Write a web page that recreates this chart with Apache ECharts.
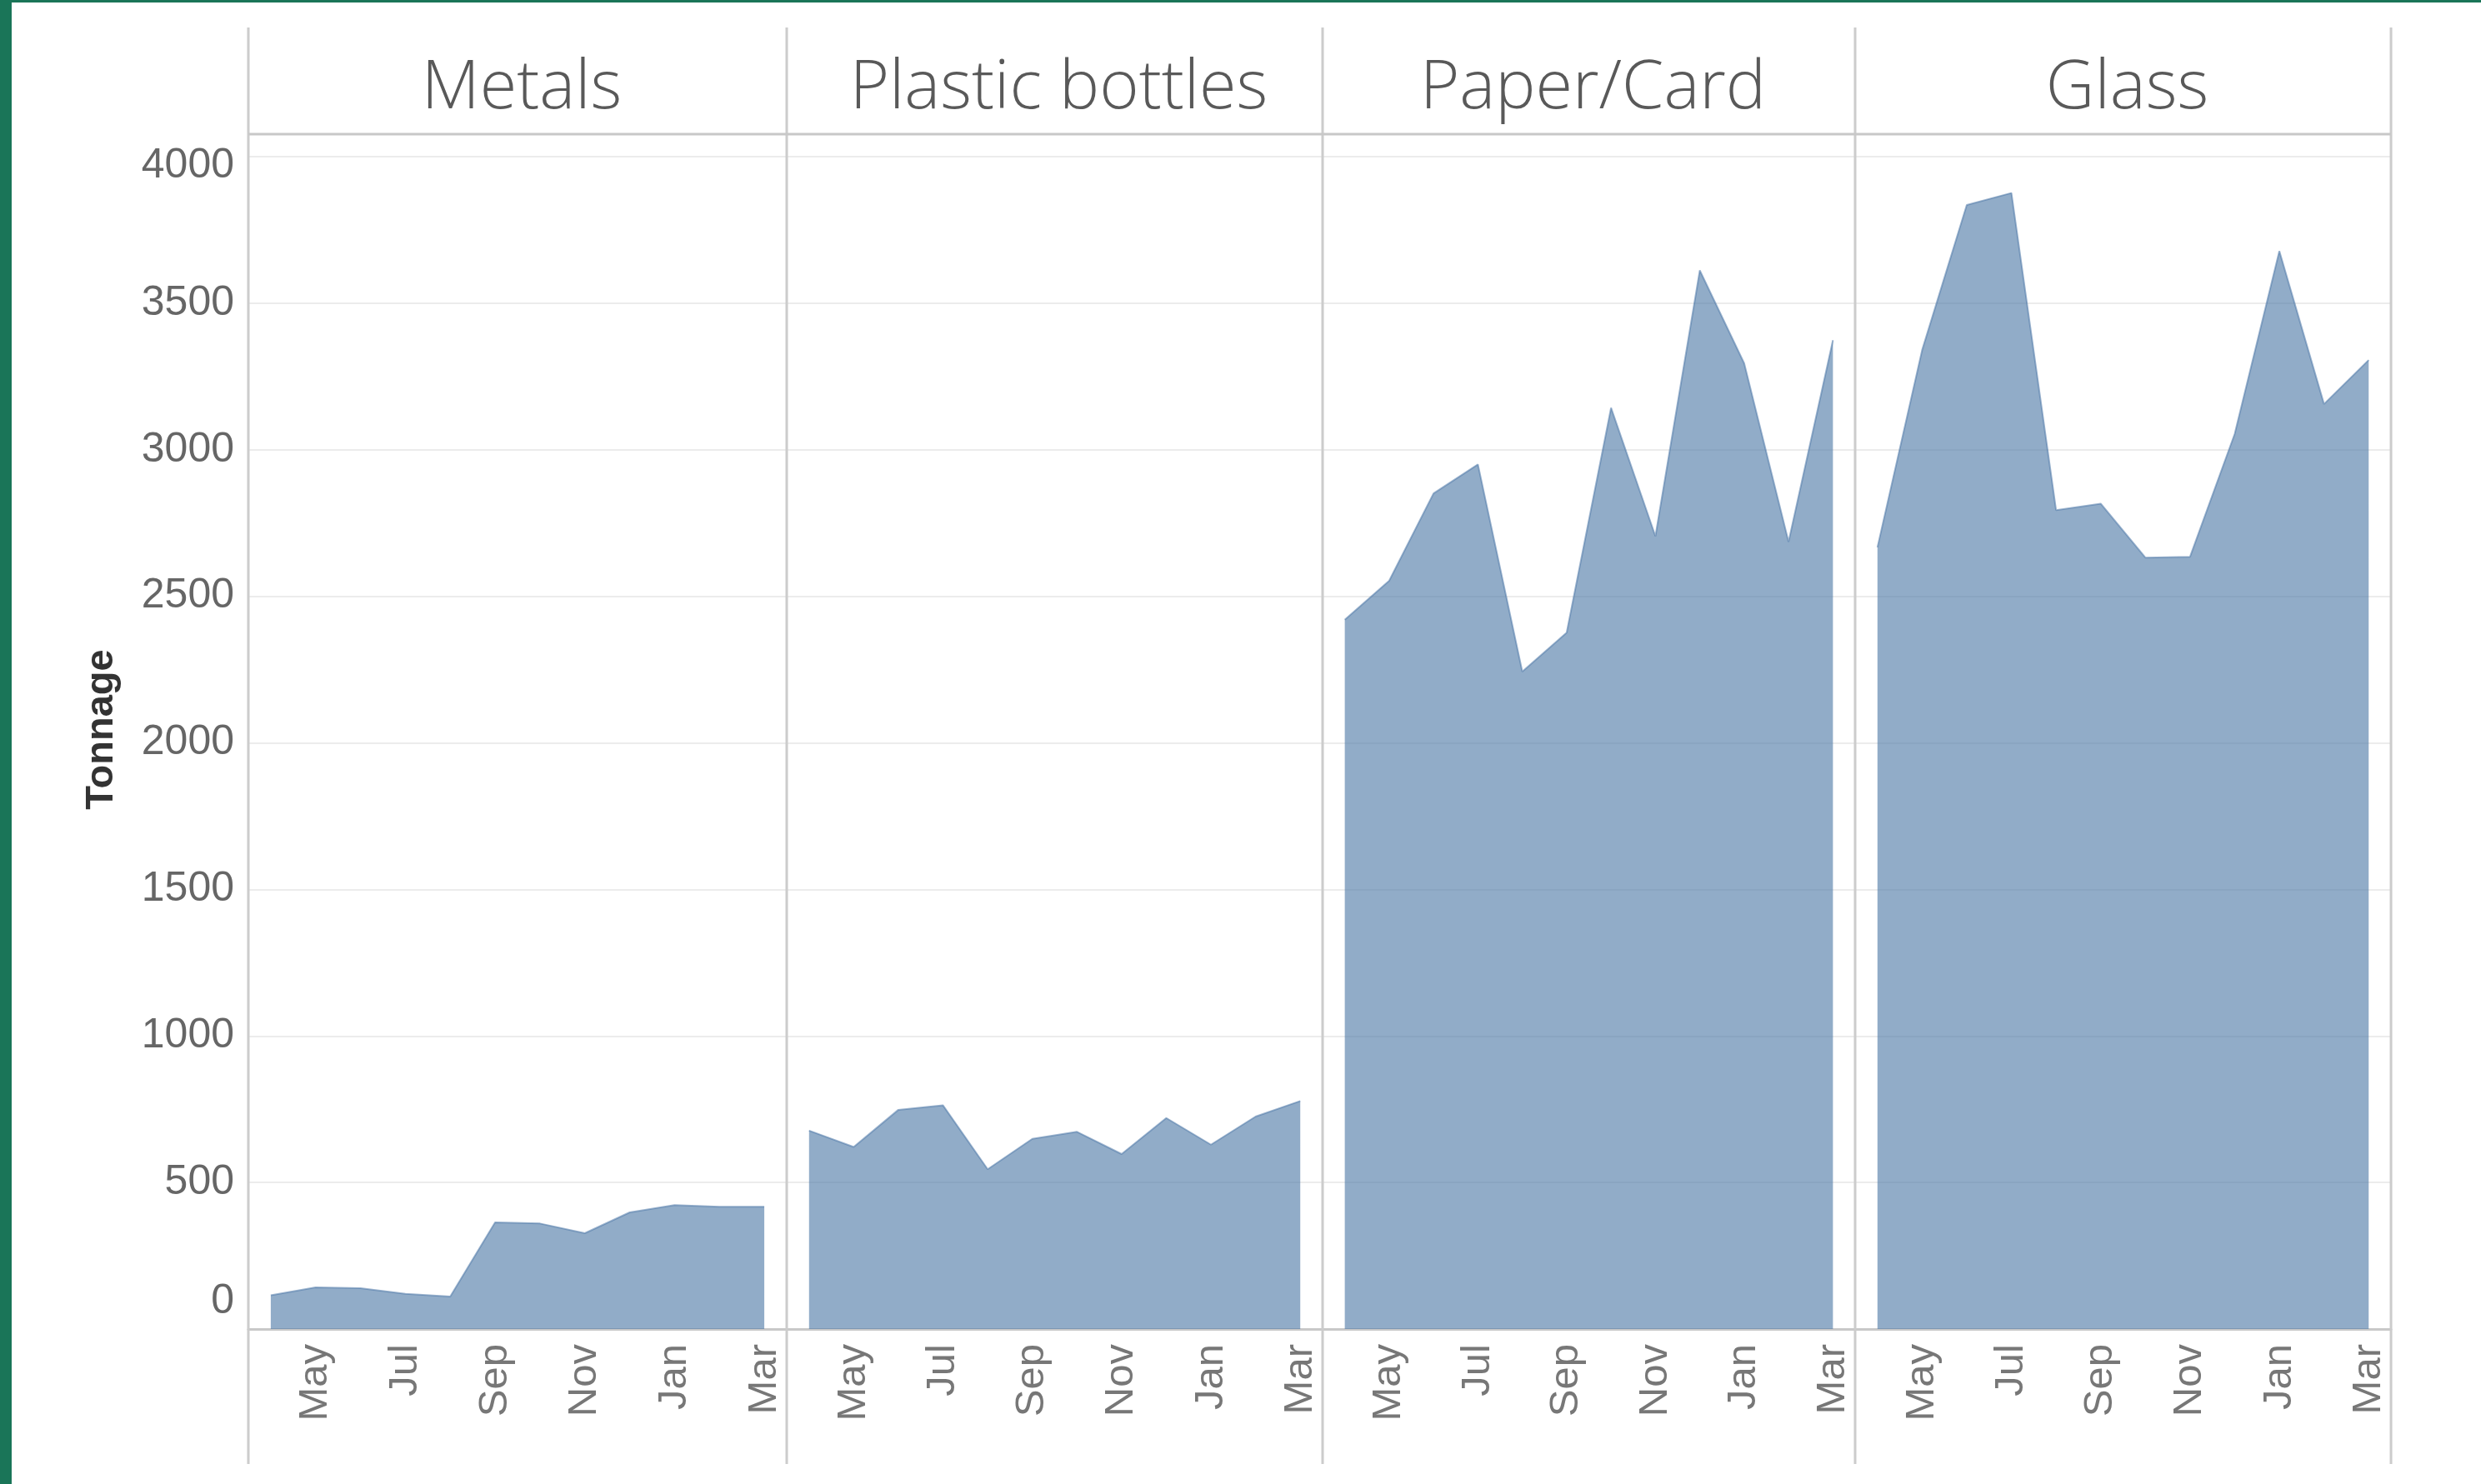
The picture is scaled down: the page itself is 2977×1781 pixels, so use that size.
<!DOCTYPE html>
<html>
<head>
<meta charset="utf-8">
<script src="https://cdn.jsdelivr.net/npm/echarts@6/dist/echarts.min.js"></script>
<style>
  html, body { margin: 0; padding: 0; background: #ffffff; }
  #chart { width: 2977px; height: 1781px; }
</style>
</head>
<body>
<div id="chart"></div>
<script>
// ---- Data ----
const months = ['Apr','May','Jun','Jul','Aug','Sep','Oct','Nov','Dec','Jan','Feb','Mar'];
const panelNames = ['Metals', 'Plastic bottles', 'Paper/Card', 'Glass'];
const metals  = [115, 142, 139, 120, 111, 364, 360, 327, 398, 423, 417, 417];
const plastic = [677, 621, 748, 763, 545, 649, 673, 597, 720, 629, 725, 778];
const paper   = [2420, 2553, 2851, 2950, 2243, 2376, 3143, 2705, 3612, 3295, 2686, 3374];
const glass   = [2667, 3340, 3835, 3876, 2794, 2816, 2632, 2635, 3054, 3678, 3156, 3306];
const yTicks  = [0, 500, 1000, 1500, 2000, 2500, 3000, 3500, 4000];
const yAxisTitle = 'Tonnage';

const seriesData = [metals, plastic, paper, glass];

// ---- Layout (panel edges in pixels) ----
const edges = [298, 944, 1587, 2226, 2869];
const plotTop = 188, plotBottom = 1595;
const yMin = yTicks[0], yMax = yTicks[yTicks.length - 1], yStep = yTicks[1] - yTicks[0];

const chart = echarts.init(document.getElementById('chart'), null, { renderer: 'canvas' });

const grids = [], xAxes = [], yAxes = [], series = [], titles = [], graphics = [];

for (let i = 0; i < 4; i++) {
  const x0 = edges[i], x1 = edges[i + 1];
  grids.push({ left: x0, width: x1 - x0, top: plotTop, height: plotBottom - plotTop, containLabel: false });
  xAxes.push({
    type: 'category', gridIndex: i, data: months, boundaryGap: true,
    axisTick: { show: false },
    axisLine: { show: true, lineStyle: { color: '#c8c8c8', width: 3 } },
    axisLabel: {
      interval: function (idx) { return idx % 2 === 1; },
      rotate: 90, margin: 18, fontSize: 49, color: '#777777',
      fontFamily: "'Liberation Sans', Arial, sans-serif"
    },
    splitLine: { show: false }
  });
  yAxes.push({
    type: 'value', gridIndex: i, min: yMin, max: yMax, interval: yStep,
    axisLine: { show: false }, axisTick: { show: false },
    splitLine: { show: true, lineStyle: { color: '#ececec', width: 2 } },
    name: i === 0 ? yAxisTitle : '',
    nameLocation: 'middle', nameRotate: 90, nameGap: 152,
    nameTextStyle: { fontSize: 47, fontWeight: 'bold', color: '#333333',
      fontFamily: "'Liberation Sans', Arial, sans-serif", padding: [0, 0, 0, 32] },
    axisLabel: {
      show: i === 0, margin: 17, fontSize: 50, color: '#666666',
      fontFamily: "'Liberation Sans', Arial, sans-serif",
      formatter: function (v) {
        if (v === yMin) return '{z|' + v + '}';
        if (v === yMax) return '{t|' + v + '}';
        return String(v);
      },
      rich: {
        z: { fontSize: 50, color: '#666666', fontFamily: "'Liberation Sans', Arial, sans-serif", padding: [0, 0, 66, 0] },
        t: { fontSize: 50, color: '#666666', fontFamily: "'Liberation Sans', Arial, sans-serif", padding: [22, 0, 0, 0] }
      }
    }
  });
  series.push({
    type: 'line', name: panelNames[i], xAxisIndex: i, yAxisIndex: i,
    data: seriesData[i], symbol: 'none', smooth: false,
    lineStyle: { color: '#4e79a7', width: 2, opacity: 0.55 },
    areaStyle: { color: '#4e79a7', opacity: 0.62 },
    silent: true
  });
  titles.push({
    text: panelNames[i], left: (x0 + x1) / 2, top: 56, textAlign: 'center',
    textStyle: { fontSize: 81, fontWeight: 300, color: '#595959',
      fontFamily: "'Open Sans', 'Lato', sans-serif", lineHeight: 92 }
  });
}

// panel divider lines
edges.forEach(function (x) {
  graphics.push({ type: 'line', silent: true, z: 10,
    shape: { x1: x, y1: 33, x2: x, y2: 1757 },
    style: { stroke: '#cccccc', lineWidth: 3 } });
});
// header separator
graphics.push({ type: 'line', silent: true, z: 10,
  shape: { x1: edges[0], y1: 161, x2: edges[4], y2: 161 },
  style: { stroke: '#c8c8c8', lineWidth: 3 } });
// green frame (left and top)
graphics.push({ type: 'rect', silent: true, z: 20, shape: { x: 0, y: 0, width: 14, height: 1781 }, style: { fill: '#1a7558' } });
graphics.push({ type: 'rect', silent: true, z: 20, shape: { x: 0, y: 0, width: 2977, height: 3 }, style: { fill: '#1a7558' } });

chart.setOption({
  animation: false,
  backgroundColor: '#ffffff',
  title: titles,
  grid: grids,
  xAxis: xAxes,
  yAxis: yAxes,
  series: series,
  graphic: graphics
});
</script>
</body>
</html>
